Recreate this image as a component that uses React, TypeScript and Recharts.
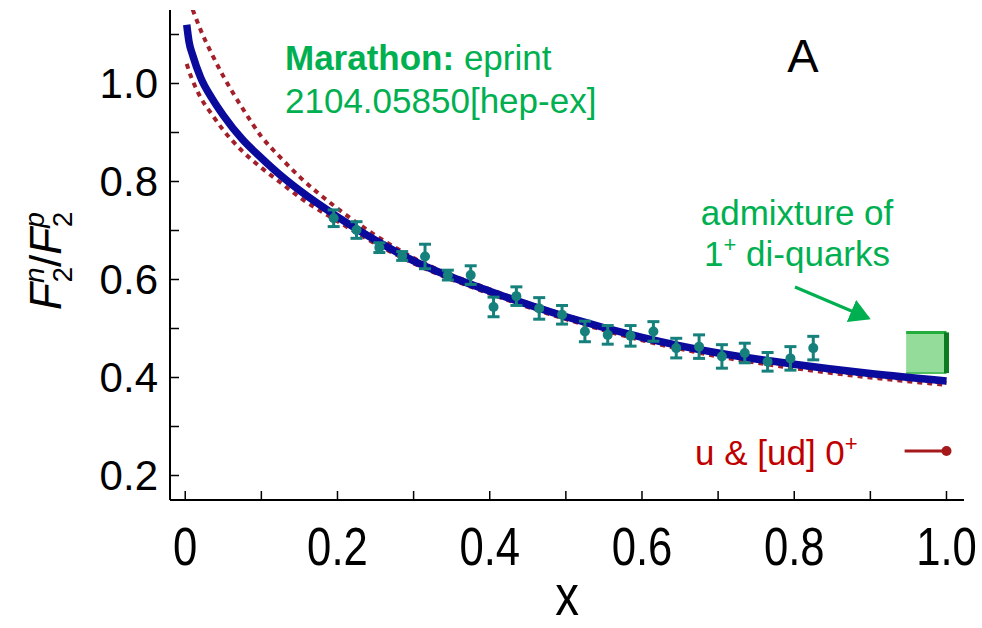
import {
  ComposedChart,
  Line,
  Scatter,
  ErrorBar,
  XAxis,
  YAxis,
  ReferenceArea,
  ReferenceLine,
  ReferenceDot,
} from "recharts";

// ── data ─────────────────────────────────────────────────────────────────────

const FONT = '"Liberation Sans", Arial, Helvetica, sans-serif';

const xTicks = [0, 0.1, 0.2, 0.3, 0.4, 0.5, 0.6, 0.7, 0.8, 0.9, 1.0];
const xTickLabels = ["0", "", "0.2", "", "0.4", "", "0.6", "", "0.8", "", "1.0"];
const yTicks = [0.2, 0.3, 0.4, 0.5, 0.6, 0.7, 0.8, 0.9, 1.0, 1.1];
const yTickLabels = ["0.2", "", "0.4", "", "0.6", "", "0.8", "", "1.0", ""];

// theory: central curve (blue) and the two dotted bounds (red)
const curveX = [0.002, 0.005, 0.01, 0.02, 0.035, 0.05, 0.075, 0.1, 0.125, 0.15, 0.2, 0.25, 0.3, 0.4, 0.5, 0.6, 0.7, 0.8, 0.9, 1.0];
const curveMid = [1.12, 1.085, 1.057, 1.013, 0.97, 0.935, 0.886, 0.848, 0.813, 0.782, 0.728, 0.68, 0.638, 0.576, 0.524, 0.482, 0.45, 0.427, 0.408, 0.393];
const curveUpper = [1.19, 1.17, 1.15, 1.11, 1.06, 1.015, 0.95, 0.892, 0.849, 0.81, 0.745, 0.69, 0.644, 0.58, 0.527, 0.483, 0.449, 0.424, 0.404, 0.389];
const curveLower = [1.04, 1.025, 1.005, 0.972, 0.937, 0.905, 0.862, 0.828, 0.798, 0.768, 0.719, 0.673, 0.633, 0.571, 0.519, 0.476, 0.443, 0.419, 0.4, 0.385];

// MARATHON data
const pointX = [0.195, 0.225, 0.255, 0.285, 0.315, 0.345, 0.375, 0.405, 0.435, 0.465, 0.495, 0.525, 0.555, 0.585, 0.615, 0.645, 0.675, 0.705, 0.735, 0.765, 0.795, 0.825];
const pointY = [0.725, 0.701, 0.665, 0.648, 0.647, 0.609, 0.609, 0.544, 0.566, 0.541, 0.528, 0.494, 0.487, 0.485, 0.494, 0.46, 0.463, 0.443, 0.45, 0.432, 0.439, 0.46];
const pointErr = [0.017, 0.017, 0.01, 0.009, 0.025, 0.01, 0.019, 0.02, 0.019, 0.022, 0.019, 0.021, 0.019, 0.021, 0.02, 0.02, 0.024, 0.024, 0.02, 0.019, 0.024, 0.024];

// x -> 1 limits
const boxX = [0.947, 1.0];
const boxY = [0.409, 0.492];
const scalarX = [0.945, 1.0];
const scalarY = 0.25;

// ── colours ──────────────────────────────────────────────────────────────────

const BLUE = "#0a0a9c";
const RED_DOT = "#a3202a";
const TEAL = "#16807c";
const GREEN = "#00b050";
const DARK_RED = "#a5191b";

const X_DOMAIN: [number, number] = [-0.02, 1.023];
const Y_DOMAIN: [number, number] = [0.15, 1.15];

const mid = curveX.map((x, i) => ({ x, y: curveMid[i] }));
const upper = curveX.map((x, i) => ({ x, y: curveUpper[i] }));
const lower = curveX.map((x, i) => ({ x, y: curveLower[i] }));
const points = pointX.map((x, i) => ({ x, y: pointY[i], err: pointErr[i] }));

function labelFor(ticks: number[], labels: string[]) {
  return (v: number) => {
    const i = ticks.findIndex((t) => Math.abs(t - v) < 1e-6);
    return i >= 0 ? labels[i] : "";
  };
}
const xLabel = labelFor(xTicks, xTickLabels);

// x tick labels in the original use a tall, narrow face
function XTick({ x, y, payload }: any) {
  return (
    <text
      transform={`translate(${x},${y}) scale(0.95,1.15)`}
      textAnchor="middle"
      dy="0.71em"
      fontSize={46}
      fontFamily={FONT}
      fill="#000"
    >
      {xLabel(payload.value)}
    </text>
  );
}

const frame = { stroke: "#000", strokeWidth: 2 };
const tickLn = { stroke: "#000", strokeWidth: 1.5 };

const W = 982;
const H = 628;

export default function App() {
  return (
    <div style={{ position: "absolute", left: 0, top: 0, width: W, height: H }}>
      <ComposedChart width={W} height={H} margin={{ top: 10, right: 18, bottom: 0, left: 0 }}>
        <XAxis
          dataKey="x"
          type="number"
          domain={X_DOMAIN}
          ticks={xTicks}
          allowDataOverflow
          height={128}
          tickSize={-9}
          tickMargin={36}
          axisLine={frame}
          tickLine={tickLn}
          tick={<XTick />}
          interval={0}
        />
        <XAxis
          xAxisId="top"
          orientation="top"
          type="number"
          domain={X_DOMAIN}
          ticks={xTicks}
          allowDataOverflow
          height={0}
          tickSize={-9}
          axisLine={frame}
          tickLine={tickLn}
          tickFormatter={() => ""}
          interval={0}
        />
        <YAxis
          type="number"
          domain={Y_DOMAIN}
          ticks={yTicks}
          allowDataOverflow
          width={170}
          tickSize={-9}
          tickMargin={21}
          axisLine={frame}
          tickLine={tickLn}
          tickFormatter={labelFor(yTicks, yTickLabels)}
          tick={{ fontSize: 42, fill: "#000", fontFamily: FONT }}
          interval={0}
        />
        <YAxis
          yAxisId="right"
          orientation="right"
          type="number"
          domain={Y_DOMAIN}
          ticks={yTicks}
          allowDataOverflow
          width={0}
          tickSize={-9}
          axisLine={frame}
          tickLine={tickLn}
          tickFormatter={() => ""}
          interval={0}
        />

        <ReferenceArea x1={boxX[0]} x2={boxX[1]} y1={boxY[0]} y2={boxY[1]} fill="#93dc99" fillOpacity={1} stroke="none" />
        <ReferenceLine segment={[{ x: boxX[0], y: boxY[1] }, { x: boxX[1], y: boxY[1] }]} stroke="#23ad3a" strokeWidth={3} />
        <ReferenceLine segment={[{ x: boxX[0], y: boxY[0] }, { x: boxX[1], y: boxY[0] }]} stroke="#52c060" strokeWidth={2} />
        <ReferenceLine segment={[{ x: boxX[1], y: boxY[0] }, { x: boxX[1], y: boxY[1] }]} stroke="#0b7a22" strokeWidth={5} />

        <Line data={upper} dataKey="y" type="monotone" stroke={RED_DOT} strokeWidth={4} strokeDasharray="5 5" dot={false} isAnimationActive={false} />
        <Line data={lower} dataKey="y" type="monotone" stroke={RED_DOT} strokeWidth={4} strokeDasharray="5 5" dot={false} isAnimationActive={false} />
        <Line data={mid} dataKey="y" type="monotone" stroke={BLUE} strokeWidth={7.5} dot={false} isAnimationActive={false} />

        <Scatter
          data={points}
          dataKey="y"
          isAnimationActive={false}
          shape={(p: any) => <circle cx={p.cx} cy={p.cy} r={5} fill={TEAL} />}
        >
          <ErrorBar dataKey="err" direction="y" width={6} strokeWidth={3} stroke={TEAL} isAnimationActive={false} />
        </Scatter>

        <ReferenceLine segment={[{ x: scalarX[0], y: scalarY }, { x: scalarX[1], y: scalarY }]} stroke={DARK_RED} strokeWidth={3} />
        <ReferenceDot x={scalarX[1]} y={scalarY} r={5} fill={DARK_RED} stroke="none" />
      </ComposedChart>

      <svg width={W} height={H} style={{ position: "absolute", left: 0, top: 0, pointerEvents: "none" }} fontFamily={FONT}>
        <defs>
          <marker id="ah" markerWidth="8" markerHeight="8" refX="6" refY="4" orient="auto" markerUnits="strokeWidth">
            <path d="M0,0 L7,4 L0,8 z" fill={GREEN} />
          </marker>
        </defs>

        {/* y-axis title F2n/F2p */}
        <g transform="translate(61, 310) rotate(-90)">
          <text fontSize={44} fill="#000">
            <tspan fontStyle="italic">F</tspan>
            <tspan fontSize={28} fontStyle="italic" dy={-17}>n</tspan>
            <tspan fontSize={28} dx={-15} dy={28}>2</tspan>
            <tspan dy={-11}>/</tspan>
            <tspan fontStyle="italic">F</tspan>
            <tspan fontSize={28} fontStyle="italic" dy={-17}>p</tspan>
            <tspan fontSize={28} dx={-15} dy={28}>2</tspan>
          </text>
        </g>

        <text transform="translate(567, 615) scale(0.95,1.15)" fontSize={50} textAnchor="middle" fill="#000">x</text>

        <text x={803} y={72} fontSize={47} textAnchor="middle" fill="#000">A</text>

        <text x={285} y={70} fontSize={35} fill={GREEN}>
          <tspan fontWeight="bold">Marathon:</tspan> eprint
        </text>
        <text x={285} y={113} fontSize={35} fill={GREEN}>2104.05850[hep-ex]</text>

        <text x={797} y={225} fontSize={35} textAnchor="middle" fill={GREEN}>admixture of</text>
        <text x={797} y={266} fontSize={35} textAnchor="middle" fill={GREEN}>
          1<tspan fontSize={22} dy={-14}>+</tspan>
          <tspan dy={14}> di-quarks</tspan>
        </text>
        <line x1={795} y1={287} x2={868} y2={318} stroke={GREEN} strokeWidth={3} markerEnd="url(#ah)" />

        <text x={695} y={465} fontSize={35} fill="#c00000">
          u &amp; [ud] 0<tspan fontSize={22} dy={-14}>+</tspan>
        </text>
      </svg>
    </div>
  );
}
